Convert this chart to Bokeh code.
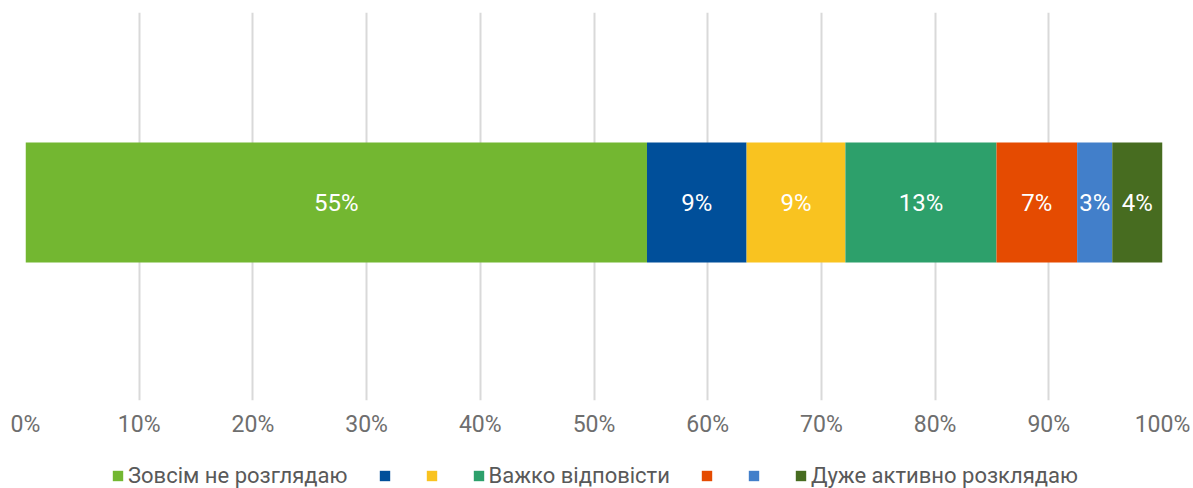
import numpy as np
from bokeh.plotting import figure
from bokeh.layouts import column
from bokeh.models import (ColumnDataSource, Legend, LegendItem, FixedTicker,
                          PrintfTickFormatter, Range1d, LabelSet)
from bokeh.core.properties import value
from bokeh.embed import file_html
from bokeh.resources import INLINE

# ---- data ----
series_names = ["Зовсім не розглядаю", "", "", "Важко відповісти", "", "", "Дуже активно розклядаю"]
series_values = [54.66, 8.76, 8.69, 13.29, 7.09, 3.09, 4.42]
series_colors = ["#73B731", "#004F9A", "#F9C320", "#2DA06B", "#E54B01", "#427FCA", "#476C20"]
x_ticks = [0, 10, 20, 30, 40, 50, 60, 70, 80, 90, 100]

FONT = "Roboto"

vals = np.array(series_values)
rights = np.cumsum(vals)
lefts = rights - vals

# ---- main chart ----
p = figure(width=1193, height=440, x_range=Range1d(0, 100),
           y_range=Range1d(-0.5102, 0.4898),
           output_backend="svg", toolbar_location=None,
           min_border_left=25, min_border_right=31, min_border_top=12, min_border_bottom=37)
p.outline_line_color = None
p.background_fill_color = "white"
p.border_fill_color = "white"

for i, col in enumerate(series_colors):
    src = ColumnDataSource(dict(y=[0], left=[lefts[i]], right=[rights[i]]))
    p.hbar(y="y", left="left", right="right", height=0.309, source=src,
           fill_color=col, line_color=None)

lab_src = ColumnDataSource(dict(x=(lefts + rights) / 2, y=[0] * len(vals),
                                t=[f"{int(round(v))}%" for v in vals]))
labels = LabelSet(x="x", y="y", text="t", source=lab_src, text_color="white",
                  text_font=value(FONT), text_font_size="24px",
                  text_align="center", text_baseline="middle")
p.add_layout(labels)

p.yaxis.visible = False
p.ygrid.grid_line_color = None
p.xgrid.grid_line_color = "#D9D9D9"
p.xgrid.grid_line_width = 2
p.xaxis.ticker = FixedTicker(ticks=x_ticks)
p.xaxis.formatter = PrintfTickFormatter(format="%d%%")
p.xaxis.axis_line_color = None
p.xaxis.major_tick_line_color = None
p.xaxis.minor_tick_line_color = None
p.xaxis.major_label_text_color = "#6E6E6E"
p.xaxis.major_label_text_font = FONT
p.xaxis.major_label_text_font_size = "23px"
p.xaxis.major_label_standoff = 4

# ---- legend strip ----
lf = figure(width=1193, height=48, x_range=Range1d(0, 1), y_range=Range1d(0, 1),
            output_backend="svg", toolbar_location=None,
            x_axis_location=None, y_axis_location=None,
            min_border_left=0, min_border_right=0, min_border_top=0, min_border_bottom=0)
lf.outline_line_color = None
lf.grid.visible = False
lf.background_fill_color = "white"
lf.border_fill_color = "white"

items = []
for name, col in zip(series_names, series_colors):
    # zero-size proxy bar: only its legend swatch is visible
    r = lf.hbar(y=[0.5], left=[0], right=[0], height=0, fill_color=col, line_color=None)
    items.append(LegendItem(label=value(name if name else " "), renderers=[r]))

legend = Legend(items=items, orientation="horizontal", location=(86, 0),
                label_text_font=FONT, label_text_font_size="22px",
                label_text_color="#595959", glyph_width=13, glyph_height=13,
                label_standoff=4, spacing=30, label_width=0, label_height=22,
                padding=0, margin=0,
                border_line_color=None, background_fill_alpha=0)
lf.add_layout(legend, "center")

layout = column(p, lf, spacing=0)
open("out.html", "w").write(file_html(layout, INLINE))
